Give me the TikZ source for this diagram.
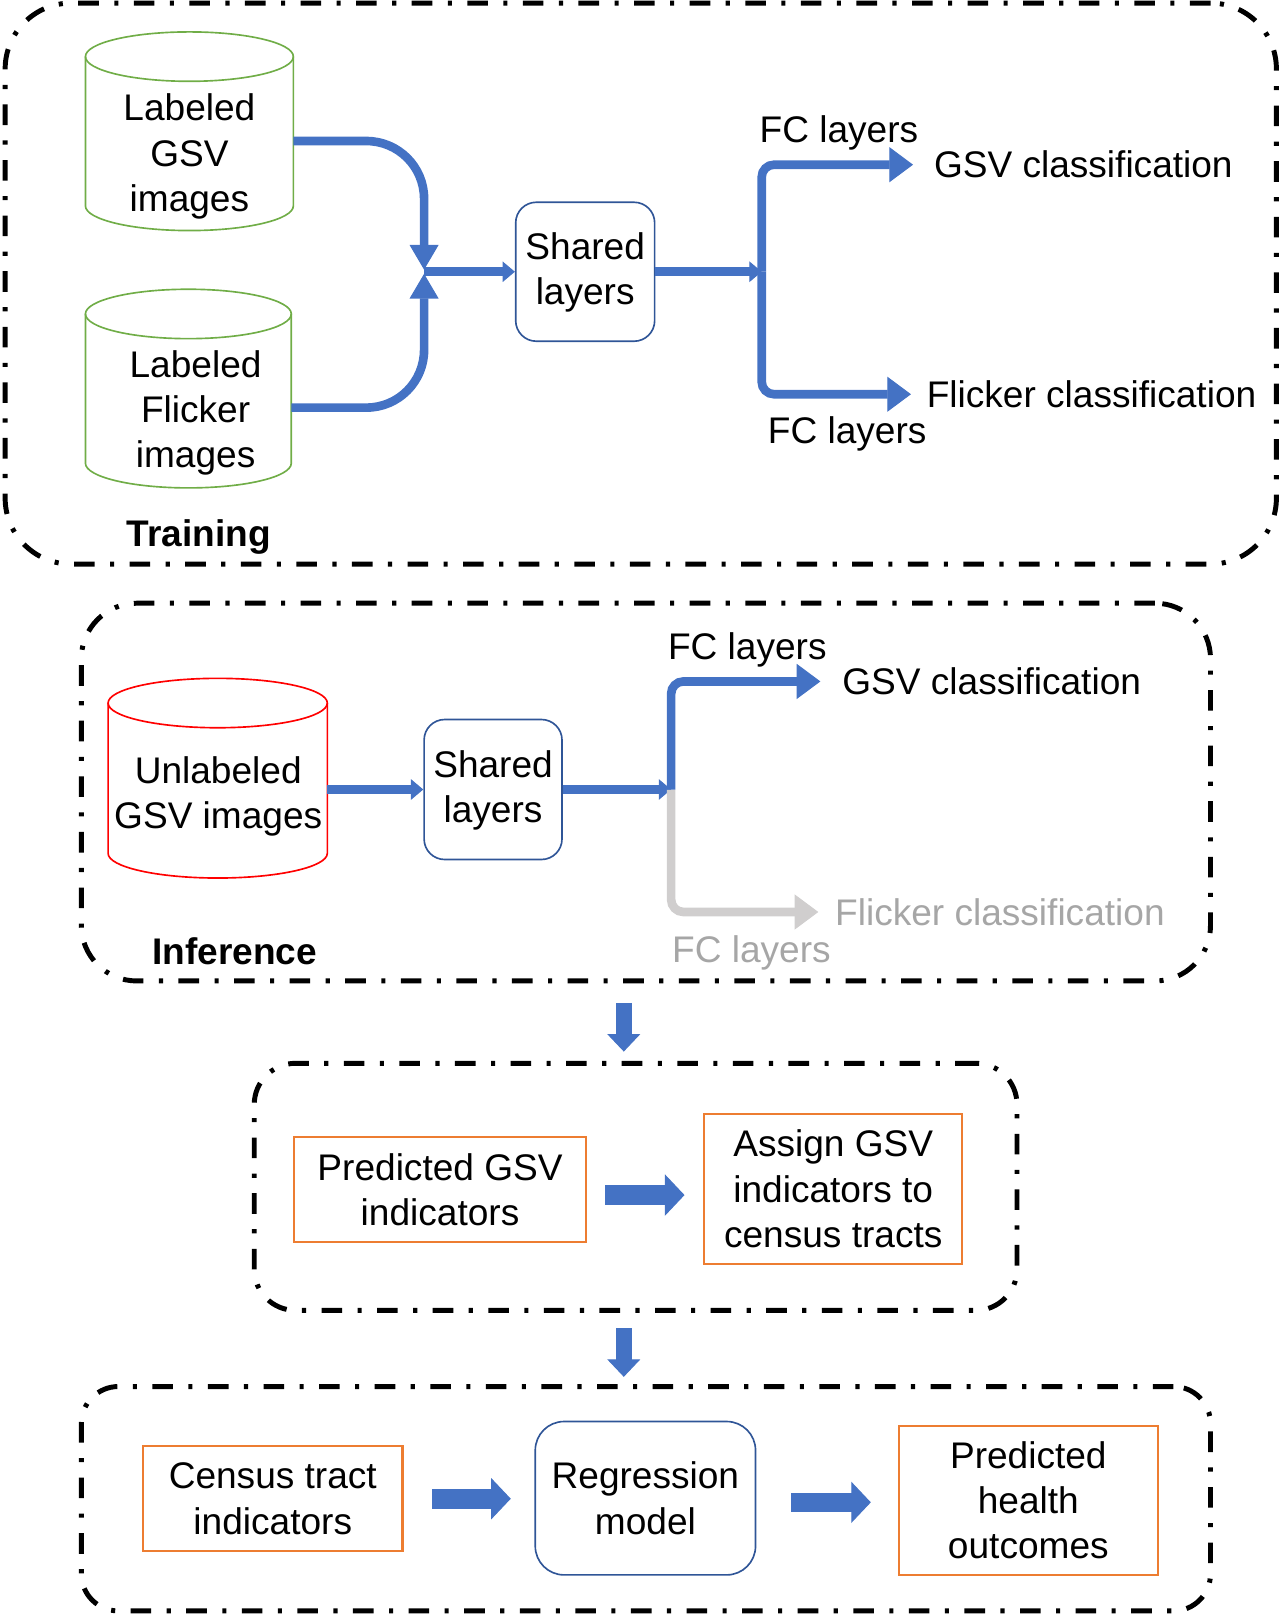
\documentclass[tikz,border=0pt]{standalone}
\usepackage{fontspec}
\setmainfont{Liberation Sans}
\usetikzlibrary{arrows.meta,calc}
\definecolor{oblue}{HTML}{4472C4}
\definecolor{dblue}{HTML}{2F5597}
\definecolor{ogreen}{HTML}{70AD47}
\definecolor{oorange}{HTML}{ED7D31}
\definecolor{ogrey}{HTML}{D0CECE}
\definecolor{tgrey}{HTML}{A6A6A6}
\begin{document}
\begin{tikzpicture}[x=0.5pt,y=-0.5pt,
 txt/.style={font=\fontsize{18}{22}\selectfont, align=center, inner sep=0pt},
 boldtxt/.style={font=\fontsize{18}{22}\selectfont\bfseries, align=center, inner sep=0pt},
 frame/.style={draw=black, line width=2.4pt, dash pattern=on 10pt off 7.5pt on 2pt off 7.5pt, inner sep=0pt},
 sbox/.style={txt, draw=dblue, line width=0.8pt, rounded corners=10pt},
 obox/.style={txt, draw=oorange, line width=1pt},
 cylline/.style={line width=0.8pt},
 conn/.style={draw=oblue, line width=4.2pt},
 gconn/.style={draw=ogrey, line width=4.2pt},
 bigtip/.style={-{Triangle[width=14pt,length=12pt,line width=0.5pt]}},
 smalltip/.style={-{Triangle[width=10pt,length=6pt,line width=0.5pt]}},
 branchtip/.style={-{Triangle[width=17pt,length=11.5pt,line width=0.5pt]}},
 fatarrow/.style={draw=oblue, line width=9.5pt, -{Triangle[width=20pt,length=9.5pt,line width=0.5pt]}},
 fatdown/.style={draw=oblue, line width=7.75pt, -{Triangle[width=16pt,length=8.5pt,line width=0.5pt]}}
]
\useasboundingbox (0,0) rectangle (1246,1568);

% frames
\node[frame, rounded corners=32pt, minimum width=617.5pt, minimum height=272.5pt] (fr1) at (622.5,275.5) {};
\node[frame, rounded corners=27pt, minimum width=548.5pt, minimum height=183.5pt] (fr2) at (627.5,769.5) {};
\node[frame, rounded corners=20pt, minimum width=370.5pt, minimum height=120pt] (fr3) at (617.5,1153) {};
\node[frame, rounded corners=18pt, minimum width=548.5pt, minimum height=109pt] (fr4) at (627.5,1456) {};

% ---------- Training ----------
% cylinder 1 (green)
\draw[ogreen, cylline] (83,55) -- (83,200) arc[start angle=180, end angle=0, x radius=101, y radius=24] -- (285,55);
\draw[ogreen, cylline] (184,55) ellipse[x radius=101, y radius=24];
\node[txt] (t1) at (184,152) {Labeled\\GSV\\images};
% cylinder 2 (green)
\draw[ogreen, cylline] (83,305) -- (83,450) arc[start angle=180, end angle=0, x radius=100, y radius=24] -- (283,305);
\draw[ogreen, cylline] (183,305) ellipse[x radius=100, y radius=24];
\node[txt] (t2) at (190,401) {Labeled\\Flicker\\images};

\node[sbox, minimum width=67.5pt, minimum height=67.5pt, text depth=3pt] (sh1) at (568.5,264) {Shared\\layers};

\coordinate (g1out) at (285,137);
\coordinate (g2out) at (283,396);
\coordinate (m1) at (412,264);
\coordinate (j1) at (740,264);

\draw[conn, bigtip, rounded corners=28pt] (g1out) -| ($(m1)+(0,-2)$);
\draw[conn, bigtip, rounded corners=28pt] (g2out) -| ($(m1)+(0,2)$);
\draw[conn, smalltip] (m1) -- (sh1.west);
\draw[conn, smalltip] (sh1.east) -- (j1);

\node[txt] (fc1) at (815,129) {FC layers};
\node[txt, anchor=west] (gsv1) at (907,160) {GSV classification};
\node[txt, anchor=west] (fl1) at (900,383) {Flicker classification};
\node[txt] (fc2) at (823,422) {FC layers};
\node[boldtxt] (trn) at (193,522) {Training};

\draw[conn, branchtip, rounded corners=6pt] (j1) |- ([xshift=-10pt]gsv1.west);
\draw[conn, branchtip, rounded corners=6pt] (j1) |- ([xshift=-7.5pt]fl1.west);

% ---------- Inference ----------
\draw[red, cylline] (105,683) -- (105,829) arc[start angle=180, end angle=0, x radius=106.5, y radius=24] -- (318,683);
\draw[red, cylline] (211.5,683) ellipse[x radius=106.5, y radius=24];
\node[txt] (t3) at (212,774) {Unlabeled\\GSV images};

\node[sbox, minimum width=67pt, minimum height=68pt, text depth=3pt] (sh2) at (479,767) {Shared\\layers};
\coordinate (g3out) at (318,767);
\coordinate (j2) at (652,767);
\draw[conn, smalltip] (g3out) -- (sh2.west);
\draw[conn, smalltip] (sh2.east) -- (j2);

\node[txt] (fc3) at (726,631) {FC layers};
\node[txt, anchor=west] (gsv2) at (818,662) {GSV classification};
\node[txt, anchor=west, text=tgrey] (fl2) at (811,886) {Flicker classification};
\node[txt, text=tgrey] (fc4) at (730,926) {FC layers};
\node[boldtxt] (infl) at (228,924) {Inference};

\draw[gconn, -{Triangle[width=17pt,length=11.5pt,line width=0.5pt]}, rounded corners=6pt] (j2) |- ([xshift=-8pt]fl2.west);
\draw[conn, branchtip, rounded corners=6pt] (j2) |- ([xshift=-10.5pt]gsv2.west);

% ---------- Box 3 ----------
\node[obox, minimum width=141.5pt, minimum height=51pt] (pg) at (427.5,1156) {Predicted GSV\\indicators};
\node[obox, minimum width=125.5pt, minimum height=73pt] (as) at (809.5,1155) {Assign GSV\\indicators to\\census tracts};
\draw[fatarrow, shorten <=9pt, shorten >=9pt] ([yshift=-2.5pt]pg.east) -- ([yshift=-2.5pt]pg.east -| as.west);

% ---------- Box 4 ----------
\node[obox, minimum width=126pt, minimum height=51pt] (ct) at (265,1456) {Census tract\\indicators};
\node[sbox, rounded corners=14pt, minimum width=107pt, minimum height=74.5pt] (rm) at (627,1455.5) {Regression\\model};
\node[obox, minimum width=126pt, minimum height=72.5pt] (ph) at (999,1457.5) {Predicted\\health\\outcomes};
\draw[fatarrow, shorten <=14pt, shorten >=11.5pt] (ct.east) -- (ct.east -| rm.west);
\draw[fatarrow, shorten <=17pt, shorten >=13pt] ([yshift=-2pt]rm.east) -- ([yshift=-2pt]rm.east -| ph.west);

% ---------- down arrows ----------
\draw[fatdown] ($(fr2.south)+(-21.5,19)$) -- ($(fr3.north)+(-11.5,-9)$);
\draw[fatdown] ($(fr3.south)+(-11.5,15)$) -- ($(fr4.north)+(-21.5,-7)$);
\end{tikzpicture}
\end{document}
